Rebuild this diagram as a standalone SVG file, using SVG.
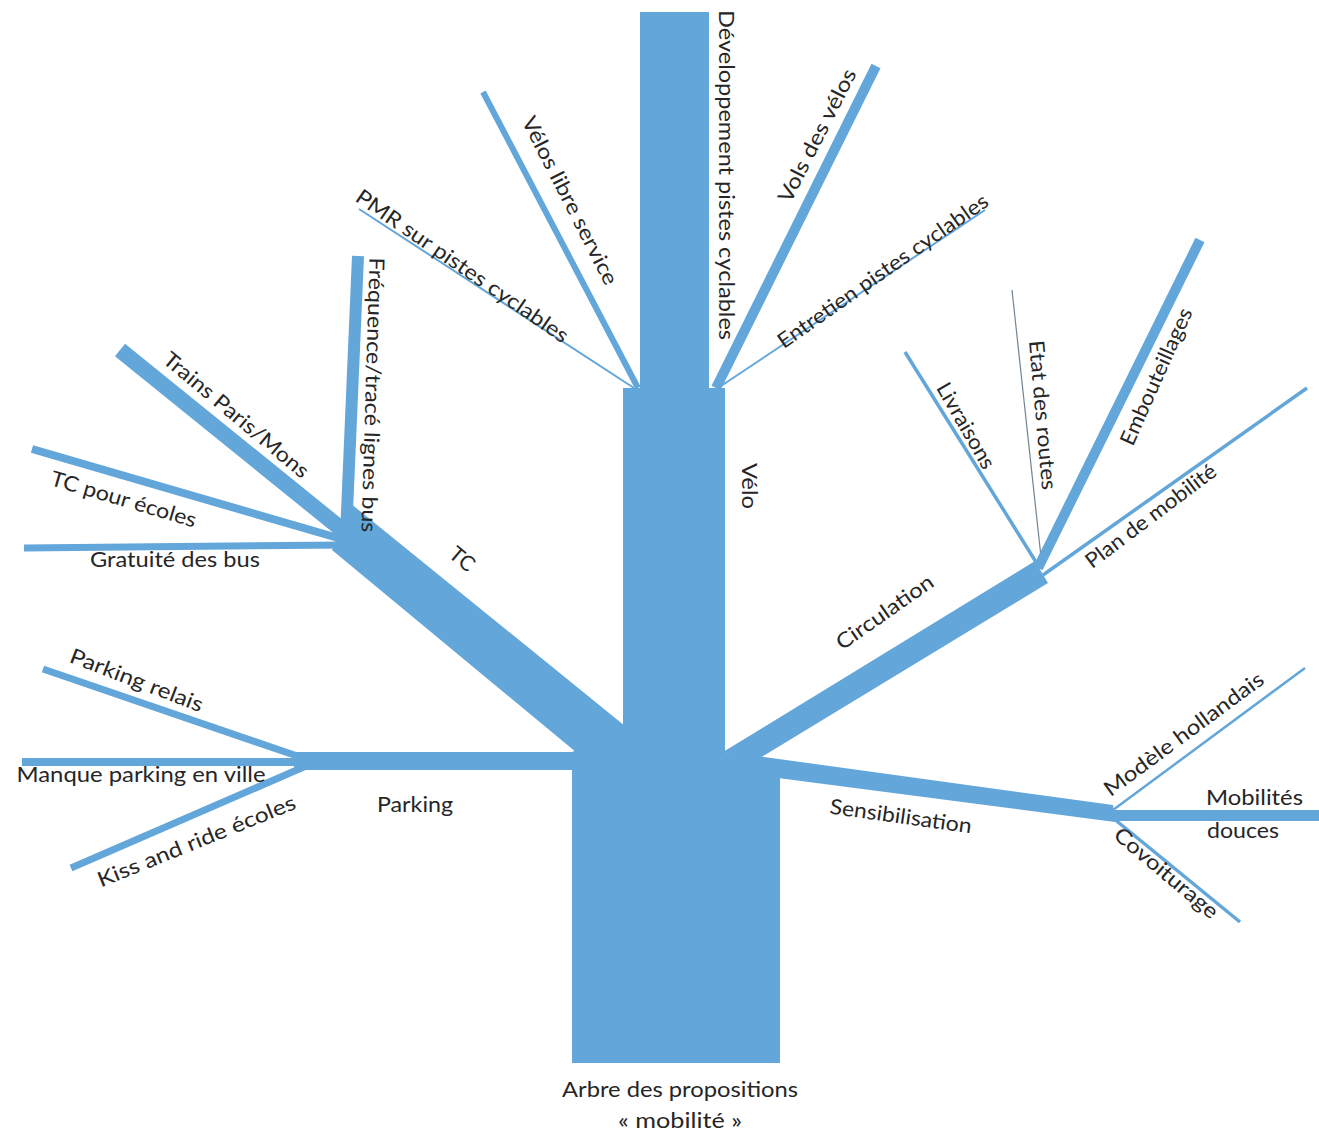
<svg xmlns="http://www.w3.org/2000/svg" width="1319" height="1134" viewBox="0 0 1319 1134">
<style>
.b{fill:#62a6da;stroke:none}
.l{stroke:#62a6da;fill:none;stroke-linecap:butt}
.t{font-family:Lato,"Open Sans","Liberation Sans",sans-serif;font-size:21px;fill:#262626}
.c{text-anchor:middle;dominant-baseline:central}
</style>
<rect width="1319" height="1134" fill="#ffffff"/>
<g id="connectors">
  <!-- trunk -->
  <polygon class="b" points="640,12 709,12 709,388 725,388 725,752 760,757 780,775 780,1063 572,1063 572,752 623,727 623,388 640,388"/>
  <!-- TC main branch -->
  <polygon class="b" points="350,503 625,726 600,772 332,550"/>
  <!-- Parking main branch -->
  <rect class="b" x="294" y="752" width="284" height="18"/>
  <!-- Circulation main branch -->
  <polygon class="b" points="723,752 1035,561 1048,583 760,758"/>
  <!-- Sensibilisation main branch -->
  <polygon class="b" points="757,756 1113,805 1115,822 778,778"/>
  <!-- Mobilités douces -->
  <rect class="b" x="1110" y="810" width="209" height="11"/>
  <!-- Vélo sub-branches -->
  <line class="l" x1="716" y1="388" x2="876" y2="66" stroke-width="10"/>
  <line class="l" x1="718" y1="388" x2="985" y2="210" stroke-width="2"/>
  <line class="l" x1="483" y1="92" x2="638" y2="388" stroke-width="6"/>
  <line class="l" x1="359" y1="209" x2="634" y2="388" stroke-width="2"/>
  <!-- TC sub-branches -->
  <line class="l" x1="358" y1="256" x2="346" y2="535" stroke-width="12"/>
  <line class="l" x1="120" y1="350" x2="345" y2="532" stroke-width="16"/>
  <line class="l" x1="32" y1="449" x2="345" y2="540" stroke-width="8"/>
  <line class="l" x1="24" y1="548" x2="345" y2="545" stroke-width="7"/>
  <!-- Parking sub-branches -->
  <line class="l" x1="43" y1="669" x2="300" y2="757" stroke-width="7"/>
  <line class="l" x1="22" y1="762" x2="300" y2="762" stroke-width="8"/>
  <line class="l" x1="71" y1="868" x2="306" y2="766" stroke-width="7"/>
  <!-- Circulation sub-branches -->
  <line class="l" x1="905" y1="352" x2="1036" y2="562" stroke-width="3.5"/>
  <line x1="1012" y1="290" x2="1041" y2="557" stroke="#6f8597" stroke-width="1.2"/>
  <line class="l" x1="1038" y1="568" x2="1200" y2="240" stroke-width="10"/>
  <line class="l" x1="1043" y1="575" x2="1307" y2="388" stroke-width="3.5"/>
  <!-- Sensibilisation sub-branches -->
  <line class="l" x1="1113" y1="810" x2="1305" y2="668" stroke-width="2.5"/>
  <line class="l" x1="1113" y1="818" x2="1240" y2="922" stroke-width="3.5"/>
</g>
<g id="n-dev"><text class="t c" transform="translate(727,175) rotate(90)" textLength="330" lengthAdjust="spacingAndGlyphs">Développement  pistes cyclables</text></g>
<g id="n-vols"><text class="t c" transform="translate(816,135) rotate(-63)" textLength="147" lengthAdjust="spacingAndGlyphs">Vols des vélos</text></g>
<g id="n-entretien"><text class="t c" transform="translate(882,270) rotate(-35)" textLength="252" lengthAdjust="spacingAndGlyphs">Entretien pistes cyclables</text></g>
<g id="n-velos-libre"><text class="t c" transform="translate(571,200) rotate(63)" textLength="186" lengthAdjust="spacingAndGlyphs">Vélos libre service</text></g>
<g id="n-pmr"><text class="t c" transform="translate(463,265) rotate(34.5)" textLength="253" lengthAdjust="spacingAndGlyphs">PMR sur pistes cyclables</text></g>
<g id="n-frequence"><text class="t c" transform="translate(374,395) rotate(91.7)" textLength="275" lengthAdjust="spacingAndGlyphs">Fréquence/tracé lignes bus</text></g>
<g id="n-trains"><text class="t c" transform="translate(237,414) rotate(40)" textLength="183" lengthAdjust="spacingAndGlyphs">Trains Paris/Mons</text></g>
<g id="n-tc-ecoles"><text class="t c" transform="translate(124,498) rotate(16.5)" textLength="151" lengthAdjust="spacingAndGlyphs">TC pour écoles</text></g>
<g id="n-gratuite"><text class="t" x="175" y="567" text-anchor="middle" textLength="170" lengthAdjust="spacingAndGlyphs">Gratuité des bus</text></g>
<g id="n-tc"><text class="t c" transform="translate(463,558) rotate(40)" textLength="26" lengthAdjust="spacingAndGlyphs">TC</text></g>
<g id="n-parking-relais"><text class="t c" transform="translate(137,679) rotate(21)" textLength="141" lengthAdjust="spacingAndGlyphs">Parking  relais</text></g>
<g id="n-manque"><text class="t" x="141" y="782" text-anchor="middle" textLength="249" lengthAdjust="spacingAndGlyphs">Manque parking en ville</text></g>
<g id="n-kiss"><text class="t c" transform="translate(196,840) rotate(-22)" textLength="212" lengthAdjust="spacingAndGlyphs">Kiss and ride écoles</text></g>
<g id="n-parking"><text class="t" x="415" y="812" text-anchor="middle" textLength="76" lengthAdjust="spacingAndGlyphs">Parking</text></g>
<g id="n-velo"><text class="t c" transform="translate(750,486) rotate(90)" textLength="46" lengthAdjust="spacingAndGlyphs">Vélo</text></g>
<g id="n-circulation"><text class="t c" transform="translate(884,611) rotate(-35)" textLength="114" lengthAdjust="spacingAndGlyphs">Circulation</text></g>
<g id="n-livraisons"><text class="t c" transform="translate(967,425) rotate(60)" textLength="96" lengthAdjust="spacingAndGlyphs">Livraisons</text></g>
<g id="n-etat"><text class="t c" transform="translate(1044,415) rotate(85)" textLength="150" lengthAdjust="spacingAndGlyphs">Etat des routes</text></g>
<g id="n-embouteillages"><text class="t c" transform="translate(1155,376) rotate(-66)" textLength="148" lengthAdjust="spacingAndGlyphs">Embouteillages</text></g>
<g id="n-plan"><text class="t c" transform="translate(1150,515) rotate(-37)" textLength="158" lengthAdjust="spacingAndGlyphs">Plan de mobilité</text></g>
<g id="n-sensibilisation"><text class="t c" transform="translate(901,815) rotate(8)" textLength="143" lengthAdjust="spacingAndGlyphs">Sensibilisation</text></g>
<g id="n-modele"><text class="t c" transform="translate(1183,733) rotate(-36.5)" textLength="193" lengthAdjust="spacingAndGlyphs">Modèle hollandais</text></g>
<g id="n-mobilites"><text class="t" x="1206" y="805" textLength="97" lengthAdjust="spacingAndGlyphs">Mobilités</text><text class="t" x="1207" y="838" textLength="72" lengthAdjust="spacingAndGlyphs">douces</text></g>
<g id="n-covoiturage"><text class="t c" transform="translate(1167,872) rotate(40)" textLength="129" lengthAdjust="spacingAndGlyphs">Covoiturage</text></g>
<g id="n-root"><text class="t" x="680" y="1097" text-anchor="middle" textLength="236" lengthAdjust="spacingAndGlyphs">Arbre des propositions</text><text class="t" x="680" y="1128" text-anchor="middle" textLength="124" lengthAdjust="spacingAndGlyphs">« mobilité »</text></g>
</svg>
